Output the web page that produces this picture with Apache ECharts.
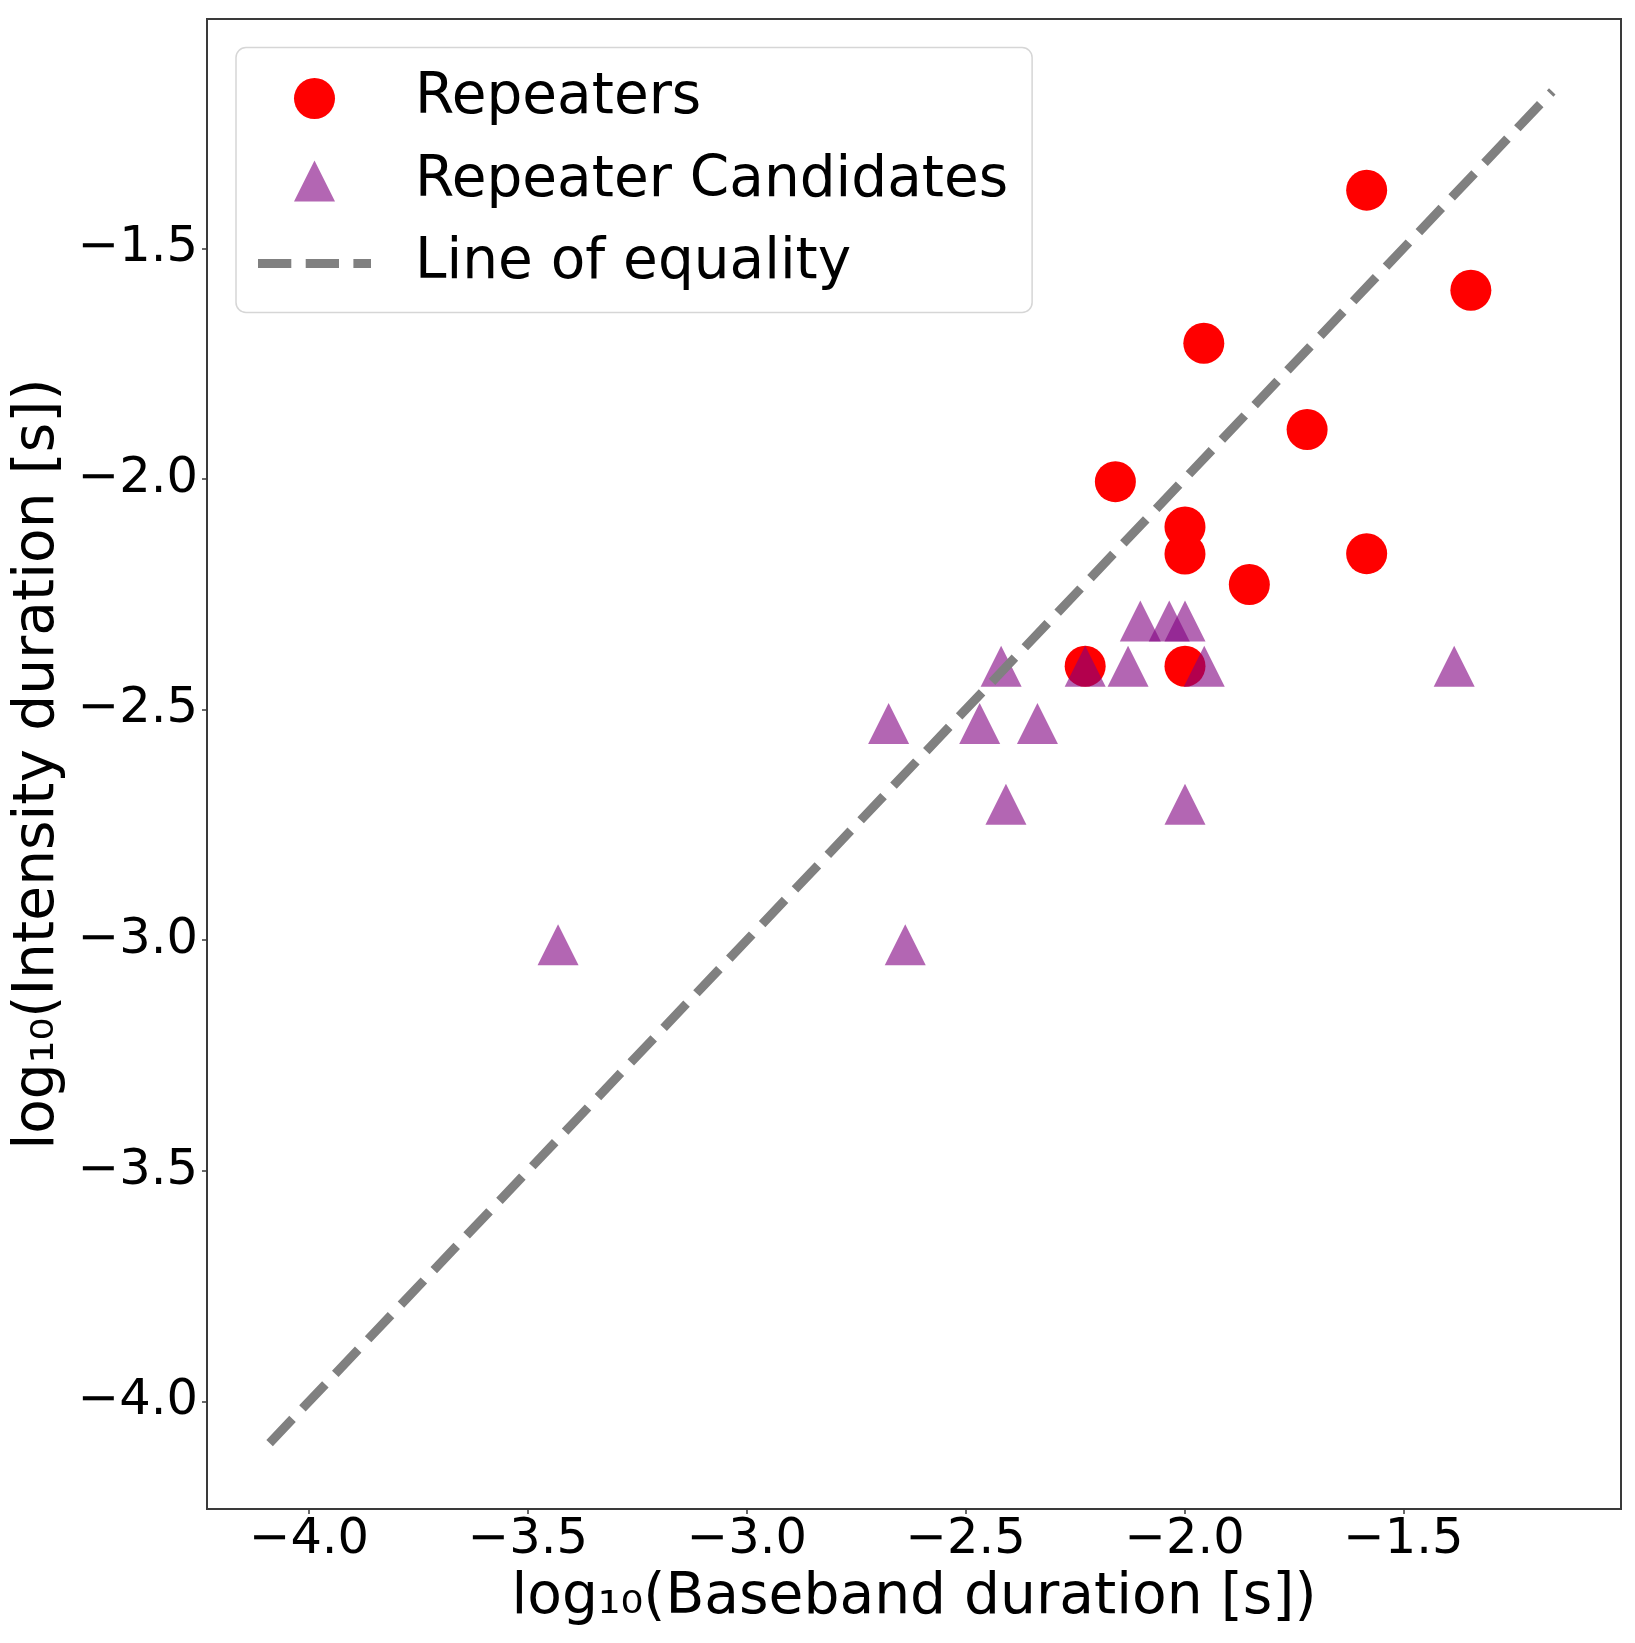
<!DOCTYPE html>
<html>
<head>
<meta charset="utf-8">
<script src="https://cdn.jsdelivr.net/npm/echarts@6/dist/echarts.min.js"></script>
<style>
  html, body { margin: 0; padding: 0; background: #ffffff; }
  #chart { width: 1635px; height: 1643px; }
</style>
</head>
<body>
<div id="chart"></div>
<script>
// ---- data (log10 seconds) ----
const repeaterX = [-1.584, -1.346, -1.956, -1.720, -2.158, -1.999, -1.999, -1.584, -1.852, -2.227, -1.999];
const repeaterY = [-1.374, -1.591, -1.706, -1.893, -2.006, -2.104, -2.163, -2.162, -2.229, -2.406, -2.406];

const candidateX = [-3.431, -2.638, -2.676, -2.468, -2.336, -2.419, -2.408, -2.227, -2.129, -2.101, -2.035, -1.999, -1.955, -1.999, -1.384];
const candidateY = [-3.010, -3.010, -2.530, -2.530, -2.530, -2.406, -2.705, -2.406, -2.406, -2.308, -2.308, -2.308, -2.406, -2.705, -2.406];

const equalityX = [-4.09, -1.16];
const equalityY = [-4.09, -1.16];

const xTicks = [-4.0, -3.5, -3.0, -2.5, -2.0, -1.5];
const yTicks = [-4.0, -3.5, -3.0, -2.5, -2.0, -1.5];

const seriesNames = ['Repeaters', 'Repeater Candidates', 'Line of equality'];
const xTitle = 'log\u2081\u2080(Baseband duration [s])';
const yTitle = 'log\u2081\u2080(Intensity duration [s])';

// ---- helpers ----
const zip = (xs, ys) => xs.map((x, i) => [x, ys[i]]);
const FONT = 'DejaVu Sans';
const fmt = v => v.toFixed(1).replace('-', '\u2212');
const AXIS_COLOR = '#3a3a3a';

// legend icon shapes (drawn by the legend component, aspect kept)
const triangleIcon = 'path://M0,41 L20.5,0 L41,41 Z';
const dashIcon = 'path://M0,0 h33.3 v9 h-33.3 Z M47.7,0 h33.3 v9 h-33.3 Z M95.4,0 h17.6 v9 h-17.6 Z';

const chart = echarts.init(document.getElementById('chart'), null, { renderer: 'canvas' });

const axisCommon = {
  type: 'value',
  min: -4.233,
  max: -1.003,
  splitLine: { show: false },
  axisLine: { show: true, onZero: false, lineStyle: { color: AXIS_COLOR, width: 2 } },
  axisTick: { show: true, inside: false, length: 5, lineStyle: { color: AXIS_COLOR, width: 1.5 } },
  nameLocation: 'middle',
  nameTextStyle: { fontFamily: FONT, fontSize: 56.7, color: '#000' }
};

chart.setOption({
  animation: false,
  backgroundColor: '#ffffff',
  grid: {
    left: 207, right: 14, top: 19, bottom: 134,
    show: true, borderColor: AXIS_COLOR, borderWidth: 2,
    containLabel: false, outerBoundsMode: 'none'
  },
  legend: {
    show: true,
    orient: 'vertical',
    left: 236, top: 47.5,
    padding: [21, 24, 19, 22],
    itemWidth: 113,
    itemHeight: 41,
    itemGap: 22.5,
    symbolKeepAspect: true,
    backgroundColor: '#ffffff',
    borderColor: '#d6d6d6',
    borderWidth: 1.5,
    borderRadius: 10,
    data: [
      { name: seriesNames[0], icon: 'circle', itemStyle: { borderWidth: 0 } },
      { name: seriesNames[1], icon: triangleIcon, itemStyle: { borderWidth: 0 } },
      { name: seriesNames[2], icon: dashIcon, itemStyle: { color: '#808080', borderWidth: 0 } }
    ],
    textStyle: {
      fontFamily: FONT, fontSize: 56.5, color: '#000',
      lineHeight: 60, padding: [0, 0, 0, 39]
    }
  },
  xAxis: Object.assign({}, axisCommon, {
    name: xTitle,
    nameGap: 60,
    axisTick: Object.assign({}, axisCommon.axisTick, { customValues: xTicks }),
    axisLabel: {
      customValues: xTicks, formatter: fmt, margin: 6,
      fontFamily: FONT, fontSize: 49.5, color: '#000'
    }
  }),
  yAxis: Object.assign({}, axisCommon, {
    name: yTitle,
    nameGap: 136,
    axisTick: Object.assign({}, axisCommon.axisTick, { customValues: yTicks }),
    axisLabel: {
      customValues: yTicks, formatter: fmt, margin: 9,
      fontFamily: FONT, fontSize: 49.5, color: '#000'
    }
  }),
  series: [
    {
      name: seriesNames[0],
      type: 'scatter',
      symbol: 'circle',
      symbolSize: 41,
      data: zip(repeaterX, repeaterY),
      itemStyle: { color: '#ff0000', opacity: 1 },
      z: 2
    },
    {
      name: seriesNames[1],
      type: 'scatter',
      symbol: 'triangle',
      symbolSize: 41,
      data: zip(candidateX, candidateY),
      itemStyle: { color: '#800080', opacity: 0.6 },
      z: 3
    },
    {
      name: seriesNames[2],
      type: 'line',
      data: zip(equalityX, equalityY),
      symbol: 'none',
      showSymbol: false,
      lineStyle: { color: '#808080', width: 9, type: [33.3, 14.4], cap: 'butt' },
      itemStyle: { color: '#808080' },
      z: 4
    }
  ]
});
</script>
</body>
</html>
